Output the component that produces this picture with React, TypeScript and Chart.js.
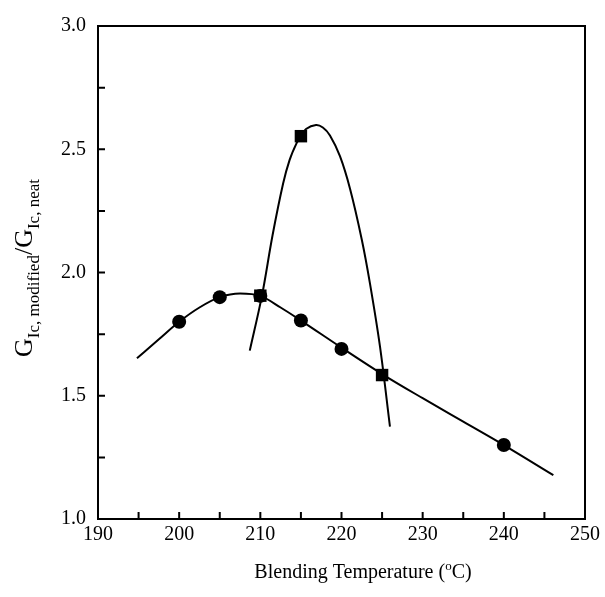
import React, { useEffect, useRef } from "react";
import { Chart, registerables } from "chart.js";

Chart.register(...registerables);

// measured data (blending temperature in °C, toughness ratio)
const circleTemps = [200, 205, 210, 215, 220, 240];
const circleRatios = [1.8, 1.9, 1.905, 1.805, 1.69, 1.3];
const squareTemps = [210, 215, 225];
const squareRatios = [1.906, 2.553, 1.584];

// fitted curves
const circleFitTemps = [194.8, 197.5, 200, 202.5, 205, 207.5, 210, 212.5, 215, 220, 225, 230, 235, 240, 246.1];
const circleFitRatios = [1.652, 1.729, 1.8, 1.858, 1.9, 1.915, 1.905, 1.858, 1.805, 1.695, 1.588, 1.49, 1.395, 1.3, 1.178];
const squareFitTemps = [208.7, 210.2, 211.5, 212.8, 213.6, 214.47, 215.0, 215.63, 216.86, 217.7, 218.58, 219.81, 221.05, 222.49, 223.51, 224.74, 225.97];
const squareFitRatios = [1.683, 1.906, 2.15, 2.36, 2.456, 2.525, 2.553, 2.582, 2.598, 2.588, 2.556, 2.472, 2.34, 2.135, 1.955, 1.7, 1.375];

const xMajorTicks = [190, 200, 210, 220, 230, 240, 250];
const xMinorTicks = [195, 205, 215, 225, 235, 245];
const yMajorTicks = [1.0, 1.5, 2.0, 2.5, 3.0];
const yMinorTicks = [1.25, 1.75, 2.25, 2.75];

const SERIF = "'Liberation Serif', 'Times New Roman', serif";

const toPoints = (xs: number[], ys: number[]) => xs.map((x, i) => ({ x, y: ys[i] }));

const framePlugin = {
  id: "frameTicks",
  beforeDatasetsDraw(chart: any) {
    const { ctx, chartArea, scales } = chart;
    const { left, right, top, bottom } = chartArea;
    ctx.save();
    ctx.strokeStyle = "#000";
    ctx.lineWidth = 2;
    ctx.strokeRect(left, top, right - left, bottom - top);
    const tl = 7;
    ctx.beginPath();
    [...xMajorTicks, ...xMinorTicks].forEach((v) => {
      const px = scales.x.getPixelForValue(v);
      ctx.moveTo(px, bottom);
      ctx.lineTo(px, bottom - tl);
    });
    [...yMajorTicks, ...yMinorTicks].forEach((v) => {
      const py = scales.y.getPixelForValue(v);
      ctx.moveTo(left, py);
      ctx.lineTo(left + tl, py);
    });
    ctx.stroke();
    ctx.restore();
  },
  afterDraw(chart: any) {
    const { ctx } = chart;
    ctx.save();
    ctx.fillStyle = "#000";
    ctx.textBaseline = "alphabetic";
    // x title
    const mainX = `20px ${SERIF}`;
    const supX = `13px ${SERIF}`;
    const partsX: [string, string, number][] = [
      ["Blending Temperature (", mainX, 0],
      ["o", supX, -8],
      ["C)", mainX, 0],
    ];
    let wX = 0;
    partsX.forEach(([t, f]) => { ctx.font = f; wX += ctx.measureText(t).width; });
    let cx = 363 - wX / 2;
    const by = 578;
    partsX.forEach(([t, f, dy]) => {
      ctx.font = f;
      ctx.textAlign = "left";
      ctx.fillText(t, cx, by + dy);
      cx += ctx.measureText(t).width;
    });
    // y title
    const mainY = `26px ${SERIF}`;
    const subY = `17px ${SERIF}`;
    const partsY: [string, string, number][] = [
      ["G", mainY, 0],
      ["Ic, modified", subY, 7],
      ["/", mainY, 0],
      ["G", mainY, 0],
      ["Ic, neat", subY, 7],
    ];
    let wY = 0;
    partsY.forEach(([t, f]) => { ctx.font = f; wY += ctx.measureText(t).width; });
    ctx.translate(32, 268);
    ctx.rotate(-Math.PI / 2);
    let cy = -wY / 2;
    partsY.forEach(([t, f, dy]) => {
      ctx.font = f;
      ctx.textAlign = "left";
      ctx.fillText(t, cy, dy);
      cy += ctx.measureText(t).width;
    });
    ctx.restore();
  },
};

export default function App() {
  const canvasRef = useRef<HTMLCanvasElement | null>(null);

  useEffect(() => {
    if (!canvasRef.current) return;
    const chart = new Chart(canvasRef.current, {
      type: "scatter",
      data: {
        datasets: [
          {
            label: "squares",
            data: toPoints(squareTemps, squareRatios),
            pointStyle: "rect",
            pointRadius: 8.8,
            backgroundColor: "#000",
            borderColor: "#000",
            borderWidth: 0,
            showLine: false,
          },
          {
            label: "circles",
            data: toPoints(circleTemps, circleRatios),
            pointStyle: "circle",
            pointRadius: 7,
            backgroundColor: "#000",
            borderColor: "#000",
            borderWidth: 0,
            showLine: false,
          },
          {
            label: "square fit",
            data: toPoints(squareFitTemps, squareFitRatios),
            showLine: true,
            pointRadius: 0,
            borderColor: "#000",
            borderWidth: 2,
            tension: 0.35,
            fill: false,
          },
          {
            label: "circle fit",
            data: toPoints(circleFitTemps, circleFitRatios),
            showLine: true,
            pointRadius: 0,
            borderColor: "#000",
            borderWidth: 2,
            cubicInterpolationMode: "monotone",
            fill: false,
          },
        ] as any,
      },
      options: {
        animation: false,
        responsive: false,
        devicePixelRatio: 1,
        layout: { padding: { top: 26, right: 20, left: 0, bottom: 0 } },
        plugins: { legend: { display: false }, tooltip: { enabled: false } },
        scales: {
          x: {
            type: "linear",
            min: 190,
            max: 250,
            afterFit: (s: any) => { s.height = 78; },
            grid: { display: false, drawTicks: false },
            border: { display: false },
            ticks: {
              stepSize: 10,
              padding: 4,
              color: "#000",
              font: { family: SERIF, size: 20 },
              callback: (v: any) => String(v),
            },
          },
          y: {
            type: "linear",
            min: 1,
            max: 3,
            afterFit: (s: any) => { s.width = 98; },
            grid: { display: false, drawTicks: false },
            border: { display: false },
            ticks: {
              stepSize: 0.5,
              padding: 12,
              color: "#000",
              font: { family: SERIF, size: 20 },
              callback: (v: any) => Number(v).toFixed(1),
            },
          },
        },
      } as any,
      plugins: [framePlugin],
    });
    return () => chart.destroy();
  }, []);

  return (
    <div style={{ position: "fixed", left: 0, top: 0, width: 605, height: 597, background: "#fff" }}>
      <canvas ref={canvasRef} width={605} height={597} style={{ width: 605, height: 597, display: "block" }} />
    </div>
  );
}
